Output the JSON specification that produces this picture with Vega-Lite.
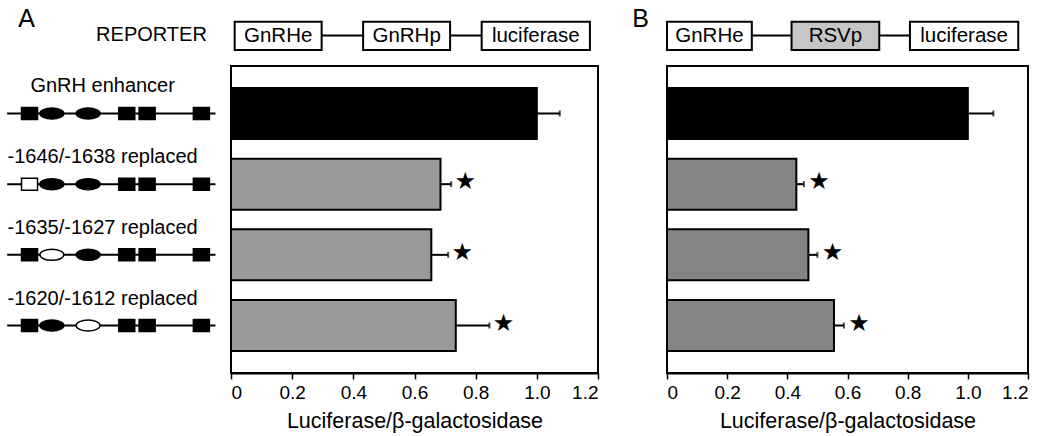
{
  "$schema": "https://vega.github.io/schema/vega-lite/v6.json",
  "background": "white",
  "bounds": "flush",
  "columns": 4,
  "spacing": {"row": 10, "column": 9},
  "resolve": {"scale": {"fill": "independent", "shape": "independent"}},
  "config": {
    "font": "Liberation Sans",
    "view": {"stroke": "black", "strokeWidth": 2},
    "axis": {
      "grid": false,
      "domainColor": "black",
      "domainWidth": 2,
      "tickColor": "black",
      "tickWidth": 1.5,
      "tickSize": 6,
      "labelColor": "black",
      "labelFontSize": 19,
      "labelPadding": 4,
      "titleColor": "black",
      "titleFontSize": 21.5,
      "titleFontWeight": "normal",
      "titlePadding": 8
    }
  },
  "datasets": {
    "A": [
      {"construct": "GnRH enhancer", "value": 1.0, "upper": 1.075, "group": "control", "sig": false},
      {"construct": "-1646/-1638 replaced", "value": 0.685, "upper": 0.72, "group": "mutant", "sig": true},
      {"construct": "-1635/-1627 replaced", "value": 0.655, "upper": 0.71, "group": "mutant", "sig": true},
      {"construct": "-1620/-1612 replaced", "value": 0.735, "upper": 0.845, "group": "mutant", "sig": true}
    ],
    "B": [
      {"construct": "GnRH enhancer", "value": 1.0, "upper": 1.085, "group": "control", "sig": false},
      {"construct": "-1646/-1638 replaced", "value": 0.43, "upper": 0.455, "group": "mutant", "sig": true},
      {"construct": "-1635/-1627 replaced", "value": 0.47, "upper": 0.5, "group": "mutant", "sig": true},
      {"construct": "-1620/-1612 replaced", "value": 0.555, "upper": 0.588, "group": "mutant", "sig": true}
    ],
    "reporterA": [
      {"element": "GnRHe", "start": 1, "end": 24.7, "origin": "GnRH"},
      {"element": "GnRHp", "start": 36, "end": 59.7, "origin": "GnRH"},
      {"element": "luciferase", "start": 68.3, "end": 97.8, "origin": "reporter"}
    ],
    "reporterB": [
      {"element": "GnRHe", "start": 0, "end": 23.5, "origin": "GnRH"},
      {"element": "RSVp", "start": 34.5, "end": 58.8, "origin": "RSV"},
      {"element": "luciferase", "start": 67.3, "end": 97.3, "origin": "reporter"}
    ],
    "sites": [
      {"construct": "GnRH enhancer", "site": 1, "pos": 11.3, "kind": "box", "state": "intact"},
      {"construct": "GnRH enhancer", "site": 2, "pos": 21.6, "kind": "oval", "state": "intact"},
      {"construct": "GnRH enhancer", "site": 3, "pos": 38.3, "kind": "oval", "state": "intact"},
      {"construct": "GnRH enhancer", "site": 4, "pos": 56.1, "kind": "box", "state": "intact"},
      {"construct": "GnRH enhancer", "site": 5, "pos": 65.5, "kind": "box", "state": "intact"},
      {"construct": "GnRH enhancer", "site": 6, "pos": 90.5, "kind": "box", "state": "intact"},
      {"construct": "-1646/-1638 replaced", "site": 1, "pos": 11.3, "kind": "box", "state": "replaced"},
      {"construct": "-1646/-1638 replaced", "site": 2, "pos": 21.6, "kind": "oval", "state": "intact"},
      {"construct": "-1646/-1638 replaced", "site": 3, "pos": 38.3, "kind": "oval", "state": "intact"},
      {"construct": "-1646/-1638 replaced", "site": 4, "pos": 56.1, "kind": "box", "state": "intact"},
      {"construct": "-1646/-1638 replaced", "site": 5, "pos": 65.5, "kind": "box", "state": "intact"},
      {"construct": "-1646/-1638 replaced", "site": 6, "pos": 90.5, "kind": "box", "state": "intact"},
      {"construct": "-1635/-1627 replaced", "site": 1, "pos": 11.3, "kind": "box", "state": "intact"},
      {"construct": "-1635/-1627 replaced", "site": 2, "pos": 21.6, "kind": "oval", "state": "replaced"},
      {"construct": "-1635/-1627 replaced", "site": 3, "pos": 38.3, "kind": "oval", "state": "intact"},
      {"construct": "-1635/-1627 replaced", "site": 4, "pos": 56.1, "kind": "box", "state": "intact"},
      {"construct": "-1635/-1627 replaced", "site": 5, "pos": 65.5, "kind": "box", "state": "intact"},
      {"construct": "-1635/-1627 replaced", "site": 6, "pos": 90.5, "kind": "box", "state": "intact"},
      {"construct": "-1620/-1612 replaced", "site": 1, "pos": 11.3, "kind": "box", "state": "intact"},
      {"construct": "-1620/-1612 replaced", "site": 2, "pos": 21.6, "kind": "oval", "state": "intact"},
      {"construct": "-1620/-1612 replaced", "site": 3, "pos": 38.3, "kind": "oval", "state": "replaced"},
      {"construct": "-1620/-1612 replaced", "site": 4, "pos": 56.1, "kind": "box", "state": "intact"},
      {"construct": "-1620/-1612 replaced", "site": 5, "pos": 65.5, "kind": "box", "state": "intact"},
      {"construct": "-1620/-1612 replaced", "site": 6, "pos": 90.5, "kind": "box", "state": "intact"}
    ]
  },
  "concat": [
    {
      "width": 217,
      "height": 51,
      "view": {"stroke": null},
      "layer": [
        {
          "data": {"values": [{"label": "A"}]},
          "mark": {"type": "text", "fontSize": 25, "align": "center", "baseline": "middle", "color": "black"},
          "encoding": {
            "x": {"datum": 10, "type": "quantitative", "scale": {"domain": [0, 100]}, "axis": null},
            "y": {"datum": 0.72, "type": "quantitative", "scale": {"domain": [0, 1]}, "axis": null},
            "text": {"field": "label"}
          }
        },
        {
          "data": {"values": [{"label": "REPORTER"}]},
          "mark": {"type": "text", "fontSize": 20, "align": "center", "baseline": "middle", "color": "black"},
          "encoding": {
            "x": {"datum": 67.5, "type": "quantitative"},
            "y": {"datum": 0.42, "type": "quantitative"},
            "text": {"field": "label"}
          }
        }
      ]
    },
    {
      "width": 367,
      "height": 51,
      "view": {"stroke": null},
      "data": {"name": "reporterA"},
      "transform": [{"calculate": "(datum.start + datum.end) / 2", "as": "mid"}],
      "layer": [
        {
          "mark": {"type": "rule", "color": "black", "strokeWidth": 2},
          "encoding": {
            "x": {"aggregate": "min", "field": "start", "type": "quantitative", "scale": {"domain": [0, 100]}, "axis": null},
            "x2": {"aggregate": "max", "field": "end"},
            "y": {"datum": 0.4, "type": "quantitative", "scale": {"domain": [0, 1]}, "axis": null}
          }
        },
        {
          "mark": {"type": "rect", "stroke": "black", "strokeWidth": 2},
          "encoding": {
            "x": {"field": "start", "type": "quantitative"},
            "x2": {"field": "end"},
            "y": {"datum": 0.12, "type": "quantitative"},
            "y2": {"datum": 0.67},
            "fill": {"field": "origin", "type": "nominal", "scale": {"domain": ["GnRH", "reporter", "RSV"], "range": ["white", "white", "#c6c6c6"]}, "legend": null}
          }
        },
        {
          "mark": {"type": "text", "fontSize": 20.5, "align": "center", "baseline": "middle", "color": "black"},
          "encoding": {
            "x": {"field": "mid", "type": "quantitative"},
            "y": {"datum": 0.39, "type": "quantitative"},
            "text": {"field": "element"}
          }
        }
      ]
    },
    {
      "width": 51,
      "height": 51,
      "view": {"stroke": null},
      "data": {"values": [{"label": "B"}]},
      "mark": {"type": "text", "fontSize": 25, "align": "center", "baseline": "middle", "color": "black"},
      "encoding": {
        "x": {"datum": 65.7, "type": "quantitative", "scale": {"domain": [0, 100]}, "axis": null},
        "y": {"datum": 0.72, "type": "quantitative", "scale": {"domain": [0, 1]}, "axis": null},
        "text": {"field": "label"}
      }
    },
    {
      "width": 361,
      "height": 51,
      "view": {"stroke": null},
      "data": {"name": "reporterB"},
      "transform": [{"calculate": "(datum.start + datum.end) / 2", "as": "mid"}],
      "layer": [
        {
          "mark": {"type": "rule", "color": "black", "strokeWidth": 2},
          "encoding": {
            "x": {"aggregate": "min", "field": "start", "type": "quantitative", "scale": {"domain": [0, 100]}, "axis": null},
            "x2": {"aggregate": "max", "field": "end"},
            "y": {"datum": 0.4, "type": "quantitative", "scale": {"domain": [0, 1]}, "axis": null}
          }
        },
        {
          "mark": {"type": "rect", "stroke": "black", "strokeWidth": 2},
          "encoding": {
            "x": {"field": "start", "type": "quantitative"},
            "x2": {"field": "end"},
            "y": {"datum": 0.12, "type": "quantitative"},
            "y2": {"datum": 0.67},
            "fill": {"field": "origin", "type": "nominal", "scale": {"domain": ["GnRH", "reporter", "RSV"], "range": ["white", "white", "#c6c6c6"]}, "legend": null}
          }
        },
        {
          "mark": {"type": "text", "fontSize": 20.5, "align": "center", "baseline": "middle", "color": "black"},
          "encoding": {
            "x": {"field": "mid", "type": "quantitative"},
            "y": {"datum": 0.39, "type": "quantitative"},
            "text": {"field": "element"}
          }
        }
      ]
    },
    {
      "width": 217,
      "height": 307,
      "view": {"stroke": null},
      "layer": [
        {
          "data": {"name": "A"},
          "mark": {"type": "rule", "color": "black", "strokeWidth": 2},
          "encoding": {
            "x": {"datum": 1, "type": "quantitative", "scale": {"domain": [0, 100]}, "axis": null},
            "x2": {"datum": 97},
            "y": {"field": "construct", "type": "nominal", "scale": {"type": "band", "domain": ["GnRH enhancer", "-1646/-1638 replaced", "-1635/-1627 replaced", "-1620/-1612 replaced"], "paddingInner": 0.278, "paddingOuter": 0.311}, "axis": null}
          }
        },
        {
          "data": {"name": "sites"},
          "mark": {"type": "point", "filled": true, "size": 576, "stroke": "black", "strokeWidth": 1.5, "opacity": 1},
          "encoding": {
            "x": {"field": "pos", "type": "quantitative"},
            "y": {"field": "construct", "type": "nominal"},
            "shape": {"field": "kind", "type": "nominal", "scale": {"domain": ["box", "oval"], "range": ["M-0.667,-0.5H0.667V0.5H-0.667Z", "M-1,0A1,0.46,0,1,1,1,0A1,0.46,0,1,1,-1,0Z"]}, "legend": null},
            "fill": {"field": "state", "type": "nominal", "scale": {"domain": ["intact", "replaced"], "range": ["black", "white"]}, "legend": null}
          }
        },
        {
          "data": {"name": "A"},
          "mark": {"type": "text", "fontSize": 20, "align": "center", "baseline": "middle", "dy": -27, "color": "black"},
          "encoding": {
            "x": {"datum": 45, "type": "quantitative"},
            "y": {"field": "construct", "type": "nominal"},
            "text": {"field": "construct"}
          }
        }
      ]
    },
    {
      "width": 367,
      "height": 307,
      "data": {"name": "A"},
      "encoding": {
        "y": {"field": "construct", "type": "nominal", "scale": {"type": "band", "domain": ["GnRH enhancer", "-1646/-1638 replaced", "-1635/-1627 replaced", "-1620/-1612 replaced"], "paddingInner": 0.278, "paddingOuter": 0.311}, "axis": null}
      },
      "layer": [
        {
          "mark": {"type": "bar", "stroke": "black", "strokeWidth": 2},
          "encoding": {
            "x": {"field": "value", "type": "quantitative", "scale": {"domain": [0, 1.2], "nice": false}, "title": "Luciferase/β-galactosidase", "axis": {"values": [0, 0.2, 0.4, 0.6, 0.8, 1.0, 1.2], "labelExpr": "datum.value == 0 ? '0' : format(datum.value, '.1f')"}},
            "fill": {"field": "group", "type": "nominal", "scale": {"domain": ["control", "mutant"], "range": ["black", "#9a9a9a"]}, "legend": null}
          }
        },
        {
          "mark": {"type": "rule", "color": "black", "strokeWidth": 2},
          "encoding": {"x": {"field": "value", "type": "quantitative"}, "x2": {"field": "upper"}}
        },
        {
          "mark": {"type": "tick", "orient": "vertical", "color": "black", "size": 6, "thickness": 2},
          "encoding": {"x": {"field": "upper", "type": "quantitative"}}
        },
        {
          "transform": [{"filter": "datum.sig"}],
          "mark": {"type": "text", "text": "★", "font": "DejaVu Sans", "fontSize": 24, "align": "center", "baseline": "middle", "dx": 14, "dy": -2, "color": "black"},
          "encoding": {"x": {"field": "upper", "type": "quantitative"}}
        }
      ]
    },
    {
      "width": 51,
      "height": 307,
      "view": {"stroke": null},
      "data": {"values": [{"label": ""}]},
      "mark": {"type": "text"},
      "encoding": {"text": {"field": "label"}}
    },
    {
      "width": 361,
      "height": 307,
      "data": {"name": "B"},
      "encoding": {
        "y": {"field": "construct", "type": "nominal", "scale": {"type": "band", "domain": ["GnRH enhancer", "-1646/-1638 replaced", "-1635/-1627 replaced", "-1620/-1612 replaced"], "paddingInner": 0.278, "paddingOuter": 0.311}, "axis": null}
      },
      "layer": [
        {
          "mark": {"type": "bar", "stroke": "black", "strokeWidth": 2},
          "encoding": {
            "x": {"field": "value", "type": "quantitative", "scale": {"domain": [0, 1.2], "nice": false}, "title": "Luciferase/β-galactosidase", "axis": {"values": [0, 0.2, 0.4, 0.6, 0.8, 1.0, 1.2], "labelExpr": "datum.value == 0 ? '0' : format(datum.value, '.1f')"}},
            "fill": {"field": "group", "type": "nominal", "scale": {"domain": ["control", "mutant"], "range": ["black", "#848484"]}, "legend": null}
          }
        },
        {
          "mark": {"type": "rule", "color": "black", "strokeWidth": 2},
          "encoding": {"x": {"field": "value", "type": "quantitative"}, "x2": {"field": "upper"}}
        },
        {
          "mark": {"type": "tick", "orient": "vertical", "color": "black", "size": 6, "thickness": 2},
          "encoding": {"x": {"field": "upper", "type": "quantitative"}}
        },
        {
          "transform": [{"filter": "datum.sig"}],
          "mark": {"type": "text", "text": "★", "font": "DejaVu Sans", "fontSize": 24, "align": "center", "baseline": "middle", "dx": 15, "dy": -2, "color": "black"},
          "encoding": {"x": {"field": "upper", "type": "quantitative"}}
        }
      ]
    }
  ]
}
